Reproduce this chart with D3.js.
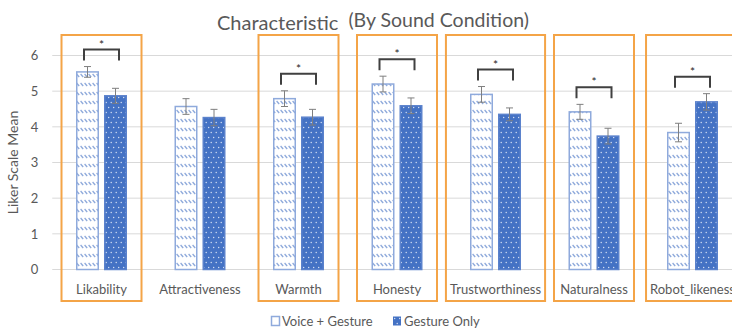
<!DOCTYPE html>
<html>
<head>
<meta charset="utf-8">
<script src="https://cdn.jsdelivr.net/npm/d3@7"></script>
<style>
  body { margin: 0; background: #fff; }
  svg { display: block; font-family: Lato, "Open Sans", sans-serif; }
</style>
</head>
<body>
<div class="chart"></div>
<script>
// data
var categories = ["Likability", "Attractiveness", "Warmth", "Honesty", "Trustworthiness", "Naturalness", "Robot_likeness"];
var seriesNames = ["Voice + Gesture", "Gesture Only"];
var voiceGesture = [5.54, 4.57, 4.79, 5.20, 4.91, 4.42, 3.84];
var gestureOnly = [4.87, 4.26, 4.27, 4.59, 4.35, 3.74, 4.70];
var voiceGestureErr = [0.15, 0.22, 0.22, 0.22, 0.22, 0.21, 0.26];
var gestureOnlyErr = [0.21, 0.23, 0.22, 0.22, 0.18, 0.22, 0.23];
var significant = [true, false, true, true, true, true, true];
var yTicks = [0, 1, 2, 3, 4, 5, 6];

var width = 732, height = 329;
var margin = { top: 55.5, bottom: 59.5, left: 52.25 };
var step = 98.5;
var grey = "#595959";

var svg = d3.select("div.chart").append("svg").attr("width", width).attr("height", height);

// patterns
var defs = svg.append("defs");
var hatch = defs.append("pattern").attr("id", "hatch").attr("patternUnits", "userSpaceOnUse")
  .attr("width", 4).attr("height", 9);
hatch.append("rect").attr("width", 4).attr("height", 9).attr("fill", "#fff");
hatch.append("line").attr("x1", 0.6).attr("y1", 2).attr("x2", 3.2).attr("y2", 5)
  .attr("stroke", "#8EA9DB").attr("stroke-width", 1.3);

var dots = defs.append("pattern").attr("id", "dots").attr("patternUnits", "userSpaceOnUse")
  .attr("width", 5).attr("height", 10);
dots.append("rect").attr("width", 5).attr("height", 10).attr("fill", "#4472C4");
dots.append("circle").attr("cx", 1.2).attr("cy", 2.5).attr("r", 0.65).attr("fill", "#fff").attr("opacity", 0.85);
dots.append("circle").attr("cx", 3.7).attr("cy", 7.5).attr("r", 0.65).attr("fill", "#fff").attr("opacity", 0.85);

// scales
var x0 = d3.scaleBand().domain(categories)
  .range([margin.left, margin.left + step * categories.length])
  .paddingInner(47.5 / 98.5).paddingOuter(47.5 / 98.5 / 2);
var x1 = d3.scaleBand().domain(seriesNames).range([0, x0.bandwidth()]).paddingInner(5 / 28);
var y = d3.scaleLinear().domain([0, 6]).range([height - margin.bottom, margin.top]);

// gridlines
svg.append("g").selectAll("line").data(yTicks).join("line")
  .attr("x1", margin.left).attr("x2", width)
  .attr("y1", function(d) { return y(d); }).attr("y2", function(d) { return y(d); })
  .attr("stroke", "#D9D9D9").attr("stroke-width", 1);

// y axis
var axisy = d3.axisLeft(y).tickValues(yTicks).tickSize(0).tickPadding(14).tickFormat(d3.format("d"));
var gy = svg.append("g").attr("transform", "translate(" + (margin.left) + ",0)").call(axisy);
gy.select(".domain").remove();
gy.selectAll("text").attr("fill", grey).attr("font-size", "13px").attr("font-family", "Lato");

svg.append("text")
  .attr("transform", "translate(18," + ((margin.top + height - margin.bottom) / 2) + ") rotate(-90)")
  .attr("text-anchor", "middle").attr("fill", grey).attr("font-size", "14px")
  .text("Liker Scale Mean");

// title
var title = svg.append("text").attr("x", 217).attr("y", 30).attr("fill", grey);
title.append("tspan").attr("font-size", "20px").text("Characteristic");
title.append("tspan").attr("font-size", "19.5px").attr("dx", 10).attr("dy", -3).text("(By Sound Condition)");

// category labels
var labels = svg.append("g").selectAll("text").data(categories).join("text")
  .attr("x", function(d) { return x0(d) + x0.bandwidth() / 2; })
  .attr("y", 294)
  .attr("text-anchor", "middle").attr("fill", grey).attr("font-size", "13px")
  .text(function(d) { return d; });

// highlight boxes round significant categories
var labelWidths = [];
labels.each(function(d, i) { labelWidths[i] = this.getComputedTextLength(); });
function boxWidth(d) { return Math.max(80, labelWidths[categories.indexOf(d)] + 8); }
svg.append("g").selectAll("rect").data(categories.filter(function(d, i) { return significant[i]; })).join("rect")
  .attr("x", function(d) { return x0(d) + x0.bandwidth() / 2 - boxWidth(d) / 2; })
  .attr("width", boxWidth)
  .attr("y", 35).attr("height", 266)
  .attr("fill", "none").attr("stroke", "#F4A447").attr("stroke-width", 2);

// bars
var rows = categories.map(function(c, i) {
  return [
    { cat: c, s: seriesNames[0], v: voiceGesture[i], e: voiceGestureErr[i] },
    { cat: c, s: seriesNames[1], v: gestureOnly[i], e: gestureOnlyErr[i] }
  ];
});
var flat = [].concat.apply([], rows);

svg.append("g").selectAll("rect").data(flat).join("rect")
  .attr("x", function(d) { return x0(d.cat) + x1(d.s) + 0.75; })
  .attr("width", x1.bandwidth() - 1.5)
  .attr("y", function(d) { return y(d.v); })
  .attr("height", function(d) { return y(0) - y(d.v); })
  .attr("fill", function(d) { return d.s === seriesNames[0] ? "url(#hatch)" : "url(#dots)"; })
  .attr("stroke", function(d) { return d.s === seriesNames[0] ? "#8FAADC" : "#5B82CC"; })
  .attr("stroke-width", 1.5);

// error bars
var eb = svg.append("g").attr("stroke", "#7F7F7F").attr("stroke-width", 1).attr("fill", "none");
eb.selectAll("path").data(flat).join("path")
  .attr("d", function(d) {
    var cx = x0(d.cat) + x1(d.s) + x1.bandwidth() / 2;
    var t = y(d.v + d.e), b = y(d.v - d.e);
    return "M" + (cx - 3.5) + "," + t + "H" + (cx + 3.5) +
      "M" + cx + "," + t + "V" + b +
      "M" + (cx - 3.5) + "," + b + "H" + (cx + 3.5);
  });

// significance brackets
var sig = svg.append("g");
rows.forEach(function(r, i) {
  if (!significant[i]) return;
  var cx = x0(r[0].cat) + x0.bandwidth() / 2;
  var top = Math.min(y(r[0].v + r[0].e), y(r[1].v + r[1].e));
  var legs = top - 6, bar = legs - 11;
  sig.append("path")
    .attr("d", "M" + (cx - 17.5) + "," + legs + "V" + bar + "H" + (cx + 17.5) + "V" + legs)
    .attr("fill", "none").attr("stroke", "#404040").attr("stroke-width", 2);
  sig.append("text").attr("x", cx).attr("y", bar - 1)
    .attr("text-anchor", "middle").attr("font-size", "12px").attr("fill", "#262626")
    .text("*");
});

// legend
var lg = svg.append("g").attr("transform", "translate(271,321)");
lg.append("rect").attr("x", 0.5).attr("y", -4.5).attr("width", 8).attr("height", 9)
  .attr("fill", "#fff").attr("stroke", "#8FAADC").attr("stroke-width", 1.5);
lg.append("text").attr("x", 11).attr("y", 4.5).attr("fill", grey).attr("font-size", "13px").text(seriesNames[0]);
lg.append("rect").attr("x", 122).attr("y", -4.5).attr("width", 8).attr("height", 9).attr("fill", "url(#dots)");
lg.append("text").attr("x", 133).attr("y", 4.5).attr("fill", grey).attr("font-size", "13px").text(seriesNames[1]);
</script>
</body>
</html>
